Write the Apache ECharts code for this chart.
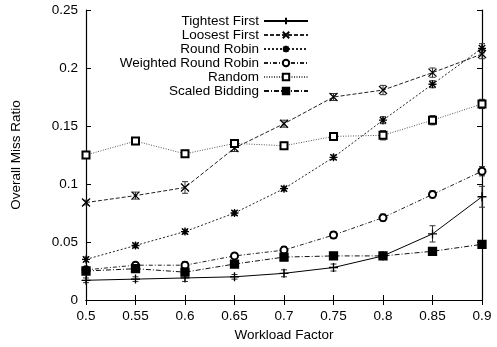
<!doctype html>
<html>
<head>
<meta charset="utf-8">
<script src="https://cdn.jsdelivr.net/npm/echarts@6/dist/echarts.min.js"></script>
<style>html,body{margin:0;padding:0;background:#fff}#main{width:497px;height:347px}</style>
</head>
<body>
<div id="main"></div>
<script>
var chart = echarts.init(document.getElementById('main'));

var factors = [0.5, 0.55, 0.6, 0.65, 0.7, 0.75, 0.8, 0.85, 0.9];
var names = ['Tightest First', 'Loosest First', 'Round Robin', 'Weighted Round Robin', 'Random', 'Scaled Bidding'];
var tightest = [0.017, 0.018, 0.019, 0.020, 0.023, 0.028, 0.038, 0.057, 0.089];
var loosest = [0.084, 0.090, 0.097, 0.131, 0.152, 0.175, 0.181, 0.196, 0.212];
var roundRobin = [0.035, 0.047, 0.059, 0.075, 0.096, 0.123, 0.155, 0.186, 0.217];
var weightedRR = [0.026, 0.030, 0.030, 0.038, 0.043, 0.056, 0.071, 0.091, 0.111];
var random = [0.125, 0.137, 0.126, 0.135, 0.133, 0.141, 0.142, 0.155, 0.169];
var scaled = [0.025, 0.027, 0.024, 0.031, 0.037, 0.038, 0.038, 0.042, 0.048];
// half-width of error bars
var errTightest = [0.002, 0.002, 0.003, 0.002, 0.003, 0.003, 0.003, 0.007, 0.009];
var errLoosest = [0.002, 0.003, 0.005, 0.003, 0.003, 0.003, 0.004, 0.004, 0.004];
var errRoundRobin = [0.002, 0.002, 0.002, 0.002, 0.002, 0.002, 0.003, 0.003, 0.004];
var errWeightedRR = [0.002, 0.002, 0.003, 0.002, 0.003, 0.003, 0.003, 0.003, 0.004];
var errRandom = [0.002, 0.003, 0.003, 0.003, 0.003, 0.003, 0.004, 0.004, 0.004];
var errScaled = [0.002, 0.002, 0.002, 0.002, 0.002, 0.003, 0.003, 0.003, 0.003];

var values = [tightest, loosest, roundRobin, weightedRR, random, scaled];
var errors = [errTightest, errLoosest, errRoundRobin, errWeightedRR, errRandom, errScaled];

var plus = 'path://M0,5L10,5M5,0L5,10';
var cross = 'path://M0,0L10,10M10,0L0,10';
var star = 'path://M0,5L10,5M5,0L5,10M1,1L9,9M9,1L1,9';
var symbols = [plus, cross, star, 'emptyCircle', 'emptyRect', 'rect'];
var sizes = [9, 8, 8, 7, 7, 8];
var lineTypes = ['solid', [4, 2], [2, 2], [4, 2, 1, 2], [1, 1.5], [5, 2, 1, 2]];
var lineColors = ['#000', '#222', '#222', '#222', '#555', '#111'];

var series = [];
names.forEach(function (n, i) {
    var stroke = symbols[i].indexOf('path://') === 0;
    series.push({
        name: n,
        type: 'line',
        data: factors.map(function (f, k) { return [f, values[i][k]]; }),
        symbol: symbols[i],
        symbolSize: sizes[i],
        showAllSymbol: true,
        lineStyle: { color: lineColors[i], width: 1, type: lineTypes[i] },
        itemStyle: stroke ? { color: 'transparent', borderColor: '#000', borderWidth: 1.3 }
                          : { color: '#000', borderColor: '#000', borderWidth: 1.3 },
        z: 3
    });
    series.push({
        type: 'custom',
        name: n + ' err',
        z: 2,
        data: factors.map(function (f, k) {
            return [f, values[i][k] - errors[i][k], values[i][k] + errors[i][k]];
        }),
        renderItem: function (params, api) {
            var lo = api.coord([api.value(0), api.value(1)]);
            var hi = api.coord([api.value(0), api.value(2)]);
            var w = 3;
            var st = { stroke: '#333', lineWidth: 1 };
            return {
                type: 'group',
                children: [
                    { type: 'line', shape: { x1: lo[0], y1: lo[1], x2: hi[0], y2: hi[1] }, style: st },
                    { type: 'line', shape: { x1: lo[0] - w, y1: lo[1], x2: lo[0] + w, y2: lo[1] }, style: st },
                    { type: 'line', shape: { x1: hi[0] - w, y1: hi[1], x2: hi[0] + w, y2: hi[1] }, style: st }
                ]
            };
        }
    });
});

var axisText = { color: '#000', fontFamily: 'Liberation Sans', fontSize: 13.5 };

chart.setOption({
    animation: false,
    backgroundColor: '#fff',
    grid: { left: 86, right: 15, top: 10, bottom: 47 },
    legend: {
        data: names,
        orient: 'vertical',
        right: 188,
        top: 14,
        padding: 0,
        align: 'right',
        itemWidth: 44,
        itemHeight: 8,
        itemGap: 0,
        textStyle: { color: '#000', fontFamily: 'Liberation Sans', fontSize: 13.5, lineHeight: 13.9 }
    },
    xAxis: [{
        type: 'value', min: 0.5, max: 0.9, interval: 0.05,
        name: 'Workload Factor', nameLocation: 'middle', nameGap: 27,
        nameTextStyle: axisText,
        axisLine: { lineStyle: { color: '#000', width: 1.2 } },
        axisTick: { inside: true, length: 5, lineStyle: { color: '#000' } },
        axisLabel: Object.assign({ margin: 9 }, axisText),
        splitLine: { show: false }
    }, {
        type: 'value', min: 0.5, max: 0.9, interval: 0.05, position: 'top',
        axisLine: { show: true, lineStyle: { color: '#000', width: 1.2 } },
        axisTick: { inside: true, length: 5, lineStyle: { color: '#000' } },
        axisLabel: { show: false }, splitLine: { show: false }
    }],
    yAxis: [{
        type: 'value', min: 0, max: 0.25, interval: 0.05,
        name: 'Overall Miss Ratio', nameLocation: 'middle', nameGap: 63,
        nameTextStyle: axisText,
        axisLine: { show: true, lineStyle: { color: '#000', width: 1.2 } },
        axisTick: { show: true, inside: true, length: 5, lineStyle: { color: '#000' } },
        axisLabel: Object.assign({ margin: 8 }, axisText),
        splitLine: { show: false }
    }, {
        type: 'value', min: 0, max: 0.25, interval: 0.05, position: 'right',
        axisLine: { show: true, lineStyle: { color: '#000', width: 1.2 } },
        axisTick: { show: true, inside: true, length: 5, lineStyle: { color: '#000' } },
        axisLabel: { show: false }, splitLine: { show: false }
    }],
    series: series
});

window.onresize = chart.resize;
</script>
</body>
</html>
